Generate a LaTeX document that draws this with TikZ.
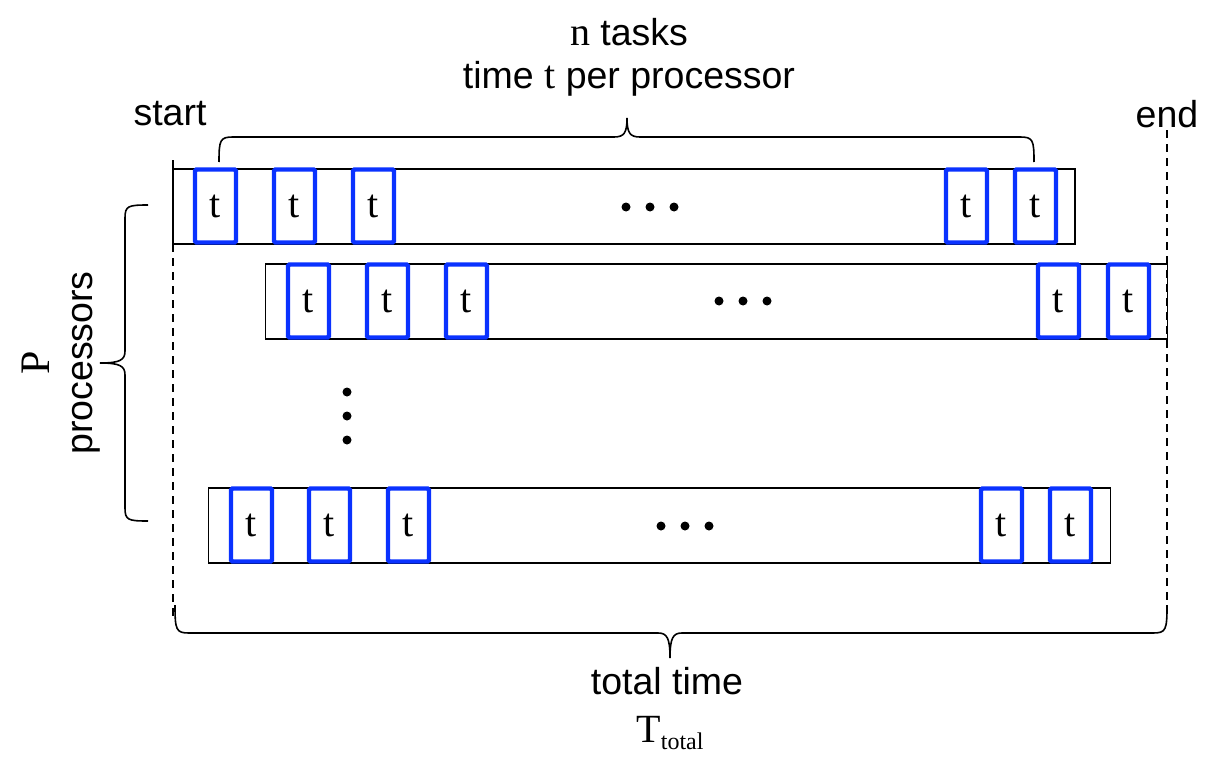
\documentclass[tikz,border=0pt]{standalone}
\usepackage{fontspec}
\setmainfont{Liberation Sans}
\newfontfamily\serifnm{Liberation Serif}
\definecolor{taskblue}{RGB}{10,50,255}
\begin{document}
\begin{tikzpicture}[x=1pt,y=-1pt,
  lbl/.style={font=\fontsize{37.5}{43}\selectfont, inner sep=0pt, align=center},
  rowbox/.style={draw=black, line width=1.4pt, minimum width=902pt, minimum height=75pt, inner sep=0pt},
  taskbox/.style={draw=taskblue, line width=4.3pt, rounded corners=1.5pt, minimum width=41pt, minimum height=73pt, inner sep=0pt, font=\fontsize{40}{40}\selectfont\serifnm},
  dotn/.style={circle, fill=black, minimum size=9pt, inner sep=0pt},
  dashseg/.style={draw=black, line width=1.8pt},
  bracel/.style={line width=1.6pt}]
\useasboundingbox (0,0) rectangle (1217,757);
% rows
\node[rowbox] (r1) at (624,206.5) {};
\node[rowbox] (r2) at (716.5,301.5) {};
\node[rowbox] (r3) at (659.5,525.5) {};
% guides as dashes
\coordinate (gl1) at (173,160); \coordinate (gr1) at (1167,130);
\foreach \yy in {0,14,...,456} \path[dashseg] ([yshift=-\yy pt]gl1) -- ++(0,8);
\foreach \yy in {0,14,...,484} \path[dashseg] ([yshift=-\yy pt]gr1) -- ++(0,8);
% tasks row 1
\node[taskbox] (a1) at (215.5,206) {t};
\node[taskbox] (a2) at (294.5,206) {t};
\node[taskbox] (a3) at (373.5,206) {t};
\node[taskbox] (a4) at (966.5,206) {t};
\node[taskbox] (a5) at (1035.5,206) {t};
% tasks row 2
\node[taskbox] (b1) at (308.5,301) {t};
\node[taskbox] (b2) at (387.5,301) {t};
\node[taskbox] (b3) at (466.5,301) {t};
\node[taskbox] (b4) at (1058.5,301) {t};
\node[taskbox] (b5) at (1128.5,301) {t};
% tasks row 3
\node[taskbox] (c1) at (251.5,525) {t};
\node[taskbox] (c2) at (329.5,525) {t};
\node[taskbox] (c3) at (408.5,525) {t};
\node[taskbox] (c4) at (1001.5,525) {t};
\node[taskbox] (c5) at (1070.5,525) {t};
% dots
\node[dotn] (d11) at (626,207) {};
\node[dotn] (d12) at (650,207) {};
\node[dotn] (d13) at (674,207) {};
\node[dotn] (d21) at (719,301) {};
\node[dotn] (d22) at (743,301) {};
\node[dotn] (d23) at (767,301) {};
\node[dotn] (d31) at (661,526) {};
\node[dotn] (d32) at (685,526) {};
\node[dotn] (d33) at (709,526) {};
\node[dotn] (v1) at (347,392) {};
\node[dotn] (v2) at (347,416) {};
\node[dotn] (v3) at (347,440) {};
% labels
\node[lbl] (start) at (170,114) {start};
\node[lbl] (end) at (1167,114) {end};
\node[lbl] (top) at (629,57) {{\serifnm\fontsize{40}{43}\selectfont n} tasks\\time {\serifnm\fontsize{40}{43}\selectfont t} per processor};
\node[lbl, rotate=90] (left) at (61,363) {{\serifnm\fontsize{42}{43}\selectfont P}\\processors};
\node[lbl] (tt) at (667,681) {total time};
\node[lbl] (ttot) at (670,733) {\serifnm\fontsize{40}{40}\selectfont T\raisebox{-0.35ex}{\fontsize{24}{24}\selectfont total}};
% top brace
\coordinate (tb1) at (219,162); \coordinate (tbt) at (627,118); \coordinate (tb2) at (1034,162);
\draw[bracel] (tb1) .. controls (219,140) and (220,137) .. (233,137) -- (614,137)
  .. controls (624,137) and (627,133) .. (tbt)
  .. controls (627,133) and (630,137) .. (640,137) -- (1020,137)
  .. controls (1033,137) and (1034,140) .. (tb2);
% left brace
\coordinate (lb1) at (148,205); \coordinate (lbt) at (100,363); \coordinate (lb2) at (148,521);
\draw[bracel] (lb1) .. controls (128,205) and (125,206) .. (125,218) -- (125,351)
  .. controls (125,360) and (120,363) .. (lbt)
  .. controls (120,363) and (125,366) .. (125,375) -- (125,508)
  .. controls (125,520) and (128,521) .. (lb2);
% bottom brace
\coordinate (bb1) at (175,605); \coordinate (bbt) at (670,658); \coordinate (bb2) at (1167,605);
\draw[bracel] (bb1) .. controls (175,630) and (176,633) .. (189,633) -- (658,633)
  .. controls (667,633) and (670,638) .. (bbt)
  .. controls (670,638) and (673,633) .. (682,633) -- (1153,633)
  .. controls (1166,633) and (1167,630) .. (bb2);
\end{tikzpicture}
\end{document}
